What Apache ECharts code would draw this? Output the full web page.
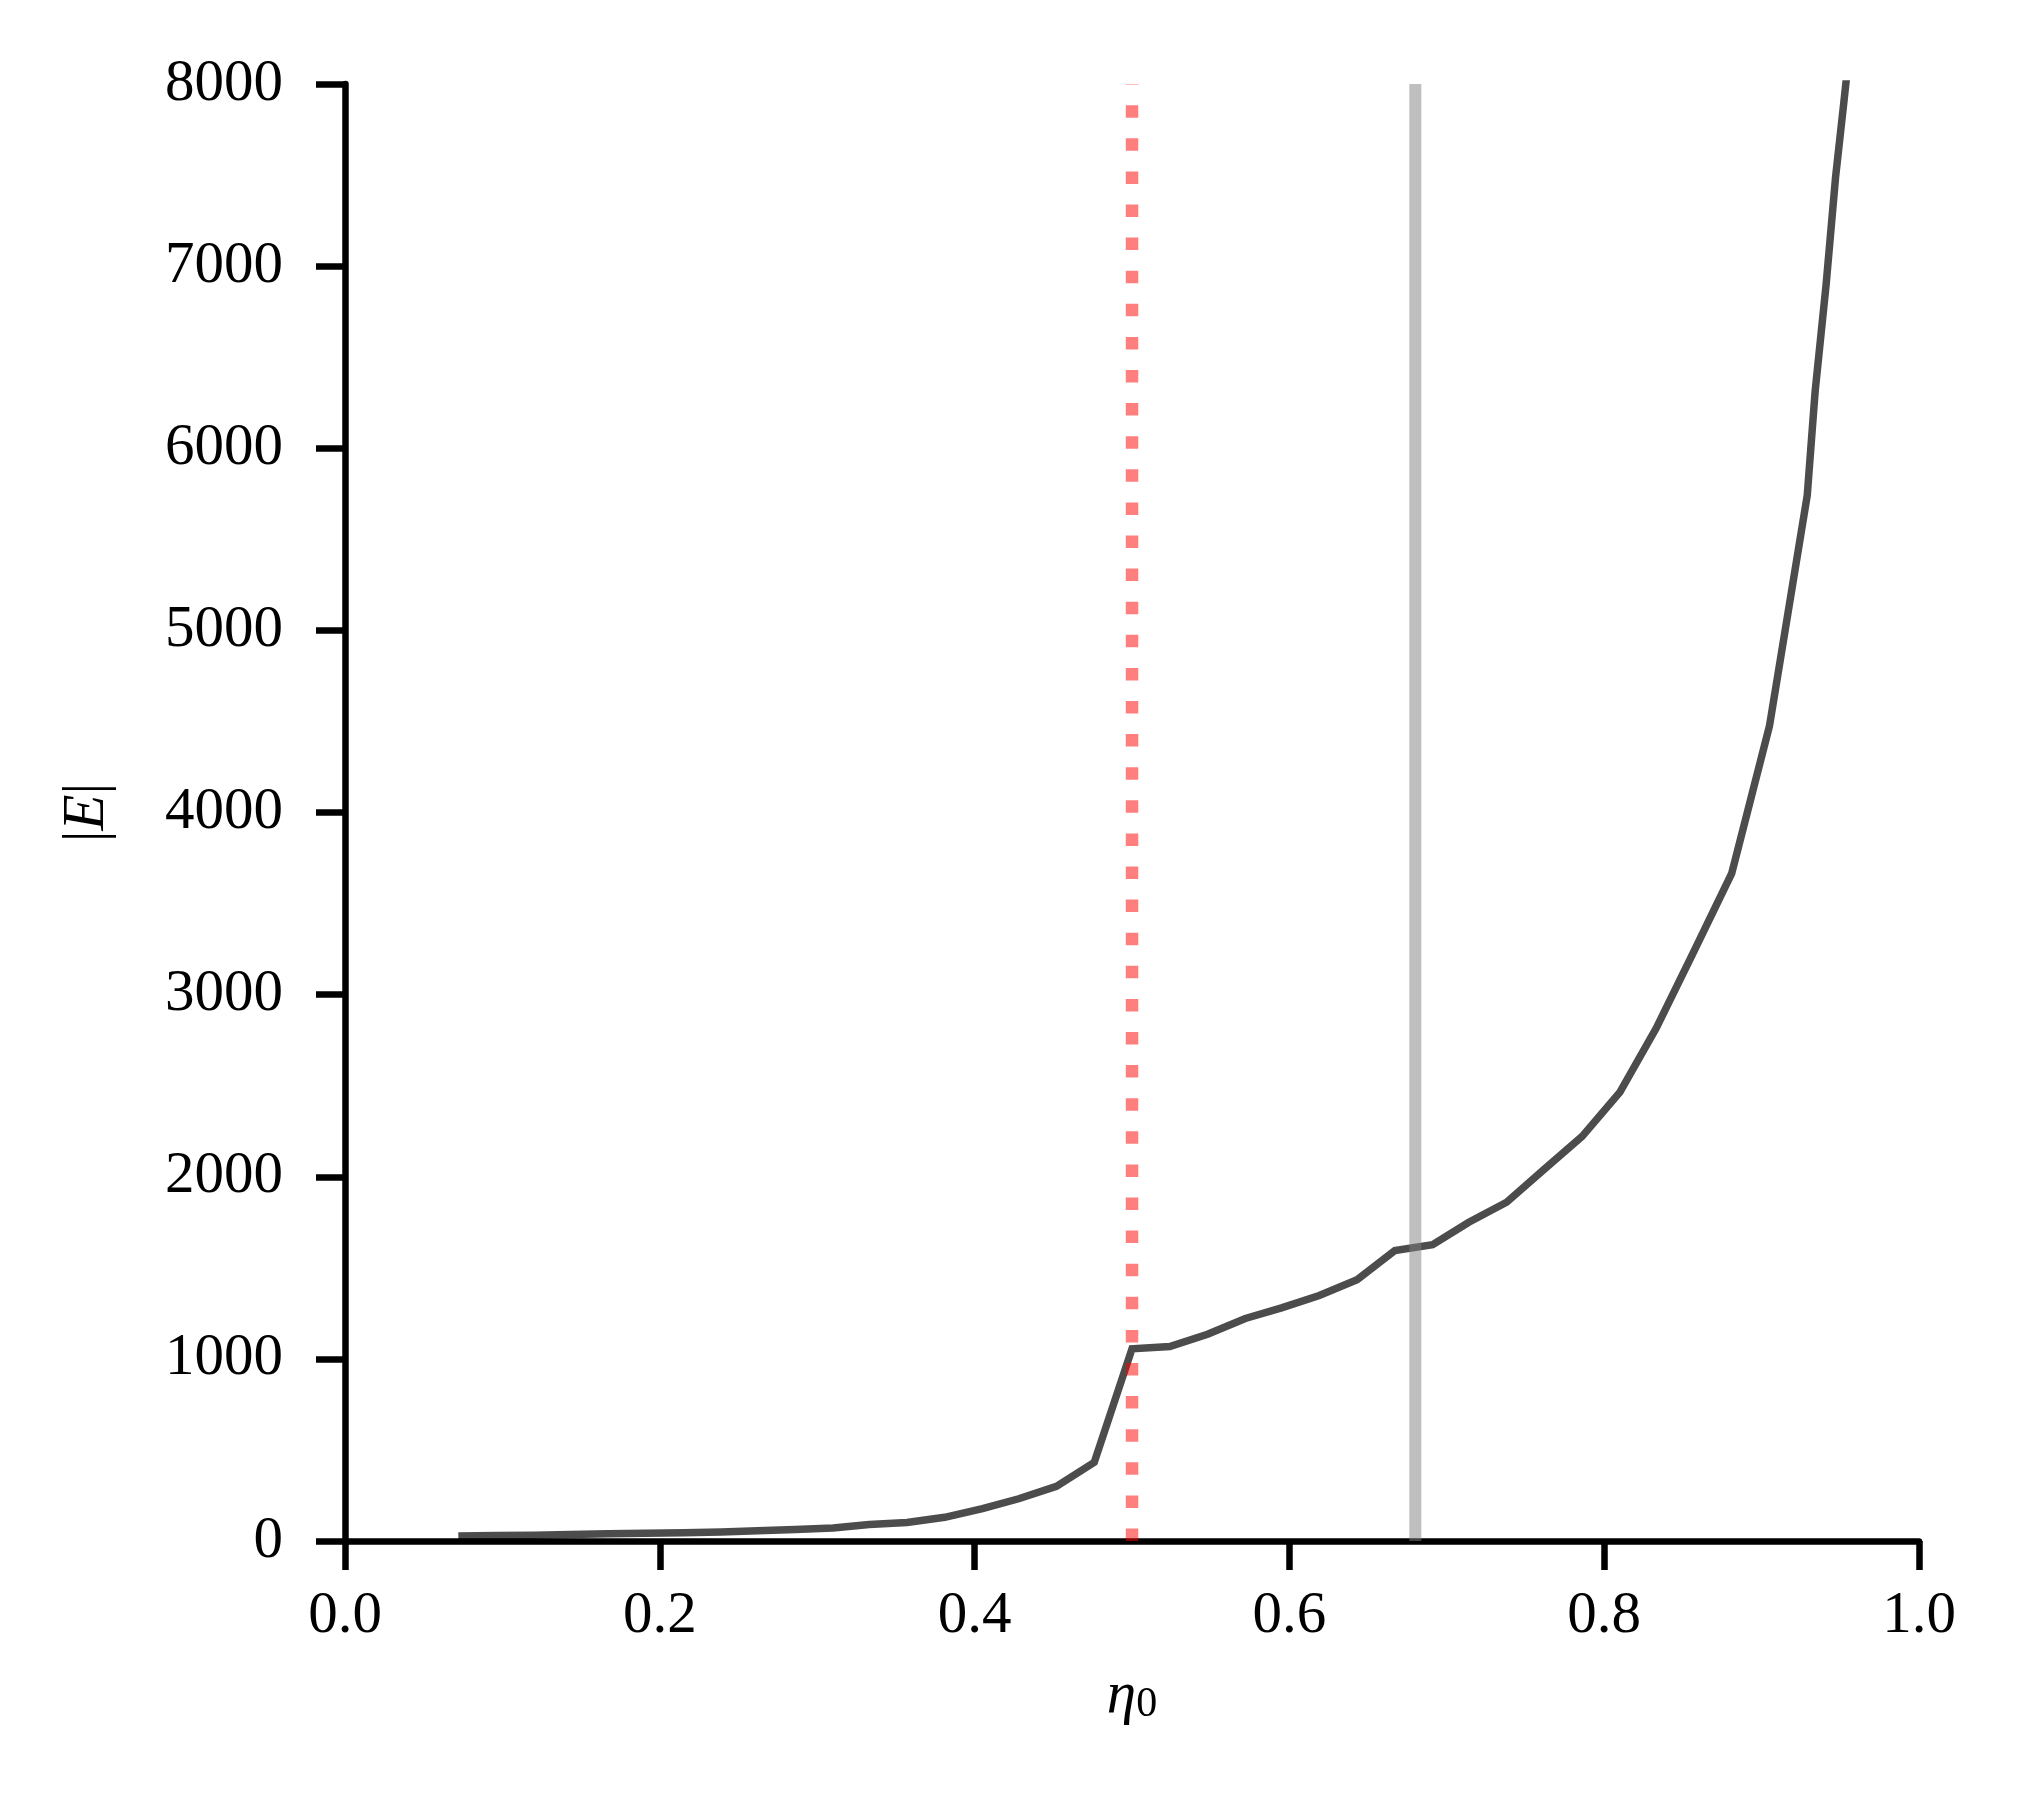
<!DOCTYPE html>
<html>
<head>
<meta charset="utf-8">
<script src="https://cdn.jsdelivr.net/npm/echarts@6/dist/echarts.min.js"></script>
<style>
  html, body { margin: 0; padding: 0; background: #fff; }
  #chart { width: 2025px; height: 1800px; }
</style>
</head>
<body>
<div id="chart"></div>
<script>
// packing fraction eta_0 and the matching |E| values
const etaValues = [0.072, 0.096, 0.120, 0.143, 0.167, 0.191, 0.215, 0.239, 0.262, 0.286,
  0.310, 0.333, 0.357, 0.381, 0.405, 0.428, 0.452, 0.476, 0.500, 0.524,
  0.548, 0.572, 0.595, 0.619, 0.643, 0.667, 0.691, 0.714, 0.738, 0.762,
  0.786, 0.810, 0.833, 0.857, 0.881, 0.905, 0.929, 0.934, 0.941, 0.947,
  0.952, 0.956]
const energyValues = [28, 30, 32, 36, 40, 42, 45, 50, 56, 63,
  72, 90, 102, 130, 178, 232, 300, 432, 1055, 1068,
  1135, 1222, 1280, 1348, 1435, 1595, 1627, 1750, 1860, 2042,
  2222, 2465, 2815, 3238, 3665, 4475, 5742, 6311, 6900, 7489,
  7880, 8200]

const xTicks = [0.0, 0.2, 0.4, 0.6, 0.8, 1.0]
const yTicks = [0, 1000, 2000, 3000, 4000, 5000, 6000, 7000, 8000]

const dottedEta = 0.5
const greyEta = 0.68

const font = 'Liberation Serif'

let myChart = echarts.init(document.getElementById('chart'), null, { renderer: 'canvas' })

let axisCommon = {
  splitLine: { show: false },
  axisLine: { show: true, onZero: false, lineStyle: { color: '#000', width: 6.5 } },
  axisTick: { show: true, length: 29, lineStyle: { color: '#000', width: 6.5 } }
}

myChart.setOption({
  animation: false,
  backgroundColor: '#fff',
  grid: {
    left: 345,
    right: 106,
    top: 84,
    bottom: 259,
    containLabel: false,
    outerBoundsMode: 'none'
  },
  xAxis: Object.assign({}, axisCommon, {
    type: 'value',
    min: xTicks[0],
    max: xTicks[xTicks.length - 1],
    interval: xTicks[1] - xTicks[0],
    name: '{i|η}{s|0}',
    nameLocation: 'middle',
    nameGap: 125,
    nameTextStyle: {
      color: '#000',
      rich: {
        i: { fontFamily: font, fontStyle: 'italic', fontSize: 59, lineHeight: 60, color: '#000' },
        s: { fontFamily: font, fontSize: 42, lineHeight: 14, verticalAlign: 'bottom', color: '#000' }
      }
    },
    axisLabel: {
      color: '#000',
      fontFamily: font,
      fontSize: 59,
      margin: 46,
      formatter: function (v) { return v.toFixed(1) }
    }
  }),
  yAxis: Object.assign({}, axisCommon, {
    type: 'value',
    min: yTicks[0],
    max: yTicks[yTicks.length - 1],
    interval: yTicks[1] - yTicks[0],
    name: '|{e|E}|',
    nameLocation: 'middle',
    nameGap: 228,
    nameTextStyle: {
      color: '#000',
      fontFamily: font,
      fontSize: 59,
      rich: {
        e: { fontFamily: font, fontStyle: 'italic', fontSize: 59, color: '#000' }
      }
    },
    axisLabel: {
      color: '#000',
      fontFamily: font,
      fontSize: 59,
      margin: 62,
      formatter: function (v) { return String(v) }
    }
  }),
  series: [
    {
      name: 'E',
      type: 'line',
      showSymbol: false,
      clip: true,
      z: 2,
      lineStyle: { color: 'rgba(0,0,0,0.7)', width: 7.5, join: 'miter' },
      data: etaValues.map((x, i) => [x, energyValues[i]])
    },
    {
      name: 'dotted',
      type: 'line',
      showSymbol: false,
      z: 3,
      lineStyle: { color: 'rgba(255,0,0,0.5)', width: 12.5, type: [12.5, 20.6], cap: 'butt' },
      data: [[dottedEta, yTicks[0]], [dottedEta, yTicks[yTicks.length - 1]]]
    },
    {
      name: 'grey',
      type: 'line',
      showSymbol: false,
      z: 3,
      lineStyle: { color: 'rgba(128,128,128,0.5)', width: 12 },
      data: [[greyEta, yTicks[0]], [greyEta, yTicks[yTicks.length - 1]]]
    }
  ]
})
</script>
</body>
</html>
